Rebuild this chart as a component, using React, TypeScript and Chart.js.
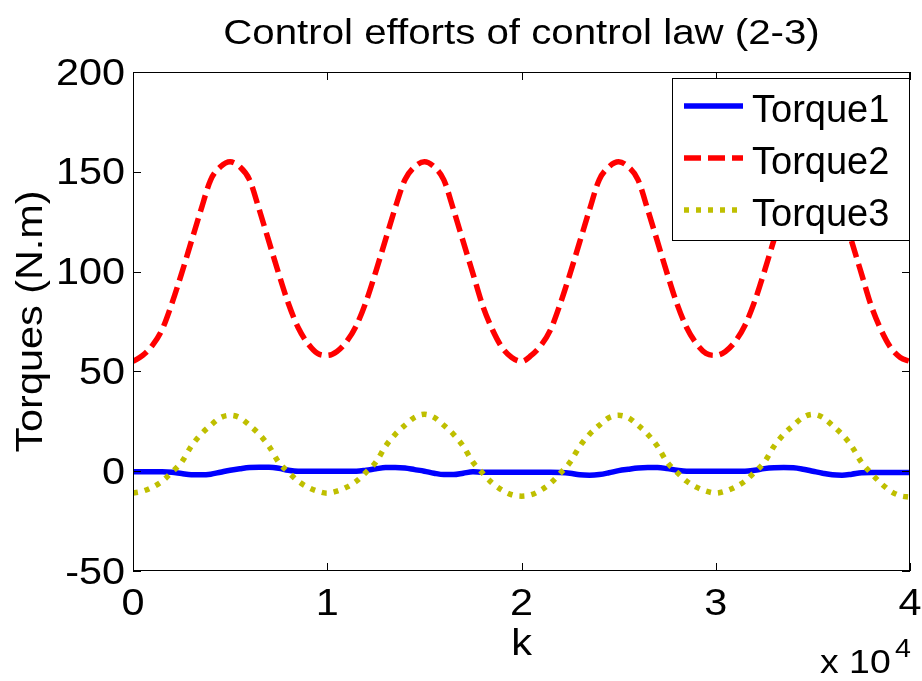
import { useEffect, useRef } from "react";
import { Chart, registerables } from "chart.js";

Chart.register(...registerables);

// ---- data ----
const K_STEP = 500;
const SAMPLE_COUNT = 81;
const K = Array.from({ length: SAMPLE_COUNT }, (_, i) => i * K_STEP);

const TORQUE1 = [
  -0.3, -0.3, -0.3, -0.3, -0.5, -1.2, -1.8, -1.8, -1.5, -0.5,
  0.5, 1.2, 1.8, 2, 2, 1.5, 0.5, 0, 0, 0,
  0, 0, 0, 0, 0.5, 1.2, 1.8, 1.8, 1.6, 0.8,
  0, -1, -1.7, -1.7, -1, -0.3, -0.5, -0.5, -0.5, -0.5,
  -0.5, -0.5, -0.5, -0.5, -0.6, -1, -1.8, -2, -1.7, -0.8,
  0.3, 1, 1.6, 1.8, 1.8, 1.3, 0.5, 0, 0, 0,
  0, 0, 0, 0, 0.5, 1.3, 1.7, 1.8, 1.7, 1,
  0, -1, -1.8, -2, -1.5, -0.8, -0.6, -0.6, -0.6, -0.6,
  -0.6,
];

const TORQUE2 = [
  55, 58, 63, 71, 84, 99, 115, 131, 146, 152.5,
  155, 152.5, 146, 131, 115, 99, 84, 72, 64, 59,
  58, 60, 65, 73, 85, 100, 116, 132, 146, 152.5,
  155, 152.5, 146, 131, 115, 99, 83, 71, 62, 57,
  55, 58, 63, 71, 84, 99, 115, 131, 146, 152.5,
  155, 152.5, 146, 131, 115, 99, 84, 72, 64, 59,
  58, 60, 65, 73, 85, 100, 116, 132, 146, 152.5,
  155, 152.5, 146, 131, 115, 99, 83, 71, 62, 57,
  55,
];

const TORQUE3 = [
  -11, -10, -8, -5, -0.5, 4.5, 12.5, 18.5, 23, 26.8,
  28, 26.8, 23, 18.5, 12.5, 4.5, -0.5, -5, -8, -10,
  -11, -10, -8, -5, -0.5, 4.5, 12.5, 18.5, 23, 27,
  28.5, 27, 23, 18.5, 12.5, 4.5, -1, -6, -9.5, -11.8,
  -12.5, -11.8, -9.5, -6, -1, 4.5, 12.5, 18.5, 23, 26.8,
  28, 26.8, 23, 18.5, 12.5, 4.5, -0.5, -5, -8, -10,
  -11, -10, -8, -5, -0.5, 4.5, 12.5, 18.5, 23, 27,
  28.5, 27, 23, 18.5, 12.5, 4.5, -1, -6, -10, -12.3,
  -13,
];

const SERIES_NAMES = ["Torque1", "Torque2", "Torque3"];
const X_TICKS = [0, 10000, 20000, 30000, 40000];
const X_TICK_LABELS = ["0", "1", "2", "3", "4"];
const Y_TICKS = [-50, 0, 50, 100, 150, 200];
const Y_TICK_LABELS = ["-50", "0", "50", "100", "150", "200"];
const TITLE = "Control efforts of control law (2-3)";
const X_LABEL = "k";
const Y_LABEL = "Torques (N.m)";
const X_EXP_BASE = "x 10";
const X_EXP_POWER = "4";

// ---- styles ----
const FONT = '"Liberation Sans", Arial, Helvetica, sans-serif';
const COLORS = ["rgb(0,0,255)", "rgb(255,0,0)", "rgb(191,191,0)"];
const DASHES: number[][] = [[], [17, 7], [5, 7]];
const WIDTHS = [5.5, 5.5, 5.5];

function drawText(
  ctx: CanvasRenderingContext2D,
  text: string,
  x: number,
  y: number,
  size: number,
  stretch: number,
  align: CanvasTextAlign,
  rotate = 0
) {
  ctx.save();
  ctx.translate(x, y);
  if (rotate) ctx.rotate(rotate);
  ctx.scale(stretch, 1);
  ctx.font = `${size}px ${FONT}`;
  ctx.textAlign = align;
  ctx.textBaseline = "alphabetic";
  ctx.fillStyle = "#000";
  ctx.fillText(text, 0, 0);
  ctx.restore();
}

const decorPlugin = {
  id: "matlabDecor",
  afterDatasetsDraw(chart: any) {
    const ctx: CanvasRenderingContext2D = chart.ctx;
    const { left, right, top, bottom } = chart.chartArea;
    const xs = chart.scales.x;
    const ys = chart.scales.y;
    const T = 8;
    ctx.save();
    ctx.strokeStyle = "#000";
    ctx.lineWidth = 1;
    ctx.setLineDash([]);
    // box
    ctx.strokeRect(Math.round(left) + 0.5, Math.round(top) + 0.5, Math.round(right - left) - 1, Math.round(bottom - top) - 1);
    ctx.beginPath();
    X_TICKS.forEach((v) => {
      const px = Math.round(xs.getPixelForValue(v)) + 0.5;
      ctx.moveTo(px, bottom);
      ctx.lineTo(px, bottom - T);
      ctx.moveTo(px, top);
      ctx.lineTo(px, top + T);
    });
    Y_TICKS.forEach((v) => {
      const py = Math.round(ys.getPixelForValue(v)) + 0.5;
      ctx.moveTo(left, py);
      ctx.lineTo(left + T, py);
      ctx.moveTo(right, py);
      ctx.lineTo(right - T, py);
    });
    ctx.stroke();
    ctx.restore();

    // tick labels
    X_TICKS.forEach((v, i) => {
      drawText(ctx, X_TICK_LABELS[i], xs.getPixelForValue(v), 615, 36, 1.15, "center");
    });
    Y_TICKS.forEach((v, i) => {
      drawText(ctx, Y_TICK_LABELS[i], 125, ys.getPixelForValue(v) + 12.5, 36, 1.15, "right");
    });

    // titles
    const cx = (left + right) / 2;
    drawText(ctx, TITLE, cx, 44, 35, 1.15, "center");
    drawText(ctx, X_LABEL, cx, 655, 36, 1.15, "center");
    drawText(ctx, Y_LABEL, 42, (top + bottom) / 2, 36, 1.15, "center", -Math.PI / 2);
    drawText(ctx, X_EXP_BASE, 820, 673, 34, 1.1, "left");
    drawText(ctx, X_EXP_POWER, 895, 657, 26, 1.1, "left");

    // legend
    const lx0 = 672, ly0 = 78, lx1 = 909, ly1 = 240;
    ctx.save();
    ctx.fillStyle = "#fff";
    ctx.fillRect(lx0, ly0, lx1 - lx0, ly1 - ly0);
    ctx.strokeStyle = "#000";
    ctx.lineWidth = 1;
    ctx.strokeRect(lx0 + 0.5, ly0 + 0.5, lx1 - lx0, ly1 - ly0);
    ctx.restore();
    const rowY = [106, 158, 210];
    SERIES_NAMES.forEach((name, i) => {
      ctx.save();
      ctx.strokeStyle = COLORS[i];
      ctx.lineWidth = WIDTHS[i];
      ctx.setLineDash(DASHES[i]);
      ctx.beginPath();
      ctx.moveTo(684, rowY[i]);
      ctx.lineTo(743, rowY[i]);
      ctx.stroke();
      ctx.restore();
      drawText(ctx, name, 752, rowY[i] + 16, 38, 1.0, "left");
    });
  },
};

export default function App() {
  const canvasRef = useRef<HTMLCanvasElement | null>(null);

  useEffect(() => {
    if (!canvasRef.current) return;
    const series = [TORQUE1, TORQUE2, TORQUE3];
    const chart = new Chart(canvasRef.current, {
      type: "line",
      data: {
        datasets: series.map((vals, i) => ({
          label: SERIES_NAMES[i],
          data: K.map((k, j) => ({ x: k, y: vals[j] })),
          borderColor: COLORS[i],
          backgroundColor: COLORS[i],
          borderWidth: WIDTHS[i],
          borderDash: DASHES[i],
          pointRadius: 0,
          fill: false,
          cubicInterpolationMode: "monotone" as const,
          order: 2 - i,
        })),
      },
      options: {
        animation: false,
        responsive: true,
        maintainAspectRatio: false,
        devicePixelRatio: 1,
        layout: { padding: { top: 72, right: 12, left: 0, bottom: 0 } },
        plugins: {
          legend: { display: false },
          title: { display: false },
          tooltip: { enabled: false },
        },
        scales: {
          x: {
            type: "linear",
            min: 0,
            max: 40000,
            grid: { display: false },
            border: { display: false },
            ticks: { display: false, stepSize: 10000 },
            afterFit: (s: any) => {
              s.height = 110;
            },
          },
          y: {
            type: "linear",
            min: -50,
            max: 200,
            grid: { display: false },
            border: { display: false },
            ticks: { display: false, stepSize: 50 },
            afterFit: (s: any) => {
              s.width = 133;
            },
          },
        },
      },
      plugins: [decorPlugin],
    });
    return () => chart.destroy();
  }, []);

  return (
    <div style={{ position: "absolute", left: 0, top: 0, width: 922, height: 681, background: "#fff" }}>
      <canvas ref={canvasRef} />
    </div>
  );
}
